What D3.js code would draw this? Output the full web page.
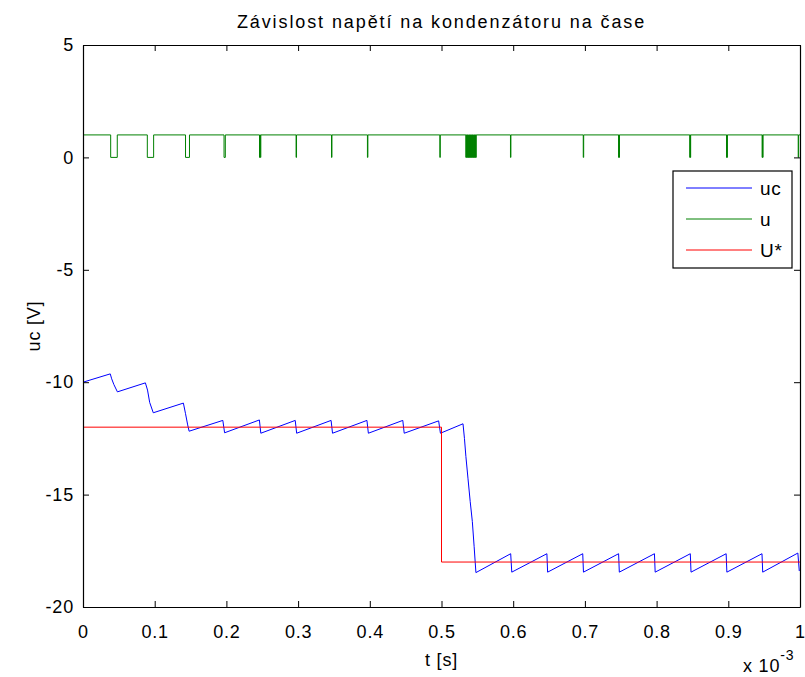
<!DOCTYPE html>
<html>
<head>
<meta charset="utf-8">
<script src="https://cdn.jsdelivr.net/npm/d3@7"></script>
<style>
  html, body { margin: 0; padding: 0; background: #fff; }
  svg { display: block; font-family: "Liberation Sans", Arial, sans-serif; }
</style>
</head>
<body>
<svg id="chart" width="805" height="677"></svg>
<script>
// Time axis in units of 1e-3 s
const xTicks = [0, 0.1, 0.2, 0.3, 0.4, 0.5, 0.6, 0.7, 0.8, 0.9, 1];
const xTickLabels = ["0", "0.1", "0.2", "0.3", "0.4", "0.5", "0.6", "0.7", "0.8", "0.9", "1"];
const yTicks = [-20, -15, -10, -5, 0, 5];
const yTickLabels = ["-20", "-15", "-10", "-5", "0", "5"];

// Capacitor voltage uc: [t, volts]
const ucTime = [
  0, 0.038, 0.040, 0.043, 0.048,
  0.087, 0.090, 0.093, 0.098,
  0.140, 0.143, 0.146, 0.148,
  0.195, 0.1975, 0.246, 0.248, 0.296, 0.298, 0.346, 0.348,
  0.396, 0.398, 0.446, 0.448, 0.496, 0.4985,
  0.530, 0.532, 0.534, 0.537, 0.540, 0.543, 0.5455, 0.548,
  0.5965, 0.598, 0.647, 0.648, 0.697, 0.698, 0.747, 0.748,
  0.797, 0.798, 0.847, 0.848, 0.897, 0.898, 0.947, 0.948, 0.997, 0.999
];
const ucValue = [
  -10.0, -9.63, -9.85, -10.1, -10.43,
  -10.03, -10.35, -10.9, -11.36,
  -10.93, -11.4, -11.9, -12.18,
  -11.7, -12.25, -11.68, -12.27, -11.7, -12.27, -11.7, -12.27,
  -11.7, -12.27, -11.7, -12.27, -11.72, -12.27,
  -11.85, -12.5, -13.3, -14.3, -15.3, -16.2, -17.3, -18.47,
  -17.63, -18.45, -17.63, -18.45, -17.63, -18.45, -17.63, -18.45,
  -17.63, -18.45, -17.63, -18.45, -17.63, -18.45, -17.63, -18.45, -17.6, -18.4
];

// Switch signal u: 1 except during these off intervals [start, end]
const uHigh = 1, uLow = 0;
const uOffIntervals = [
  [0.0386, 0.0478], [0.0897, 0.0985], [0.1430, 0.1485], [0.1967, 0.1985],
  [0.2462, 0.2468], [0.2474, 0.2480],
  [0.2972, 0.2978], [0.3466, 0.3472], [0.3967, 0.3973], [0.4977, 0.4983],
  [0.5340, 0.5344], [0.5350, 0.5354], [0.5360, 0.5364], [0.5370, 0.5374],
  [0.5380, 0.5384], [0.5390, 0.5394], [0.5400, 0.5404], [0.5410, 0.5414],
  [0.5420, 0.5424], [0.5430, 0.5434], [0.5440, 0.5444], [0.5450, 0.5454],
  [0.5460, 0.5464], [0.5470, 0.5474], [0.5480, 0.5484],
  [0.5962, 0.5968], [0.6977, 0.6983],
  [0.7470, 0.7474], [0.7478, 0.7482],
  [0.8463, 0.8467], [0.8471, 0.8475],
  [0.8975, 0.8979], [0.8983, 0.8987],
  [0.9472, 0.9476], [0.9480, 0.9484],
  [0.9975, 0.9981]
];

// Reference voltage U*: steps [t, volts]
const uStarTime = [0, 0.5, 0.5, 1];
const uStarValue = [-12, -12, -18, -18];

const legendNames = ["uc", "u", "U*"];
const legendColors = ["#0000ff", "#008000", "#ff0000"];

const svg = d3.select("#chart");
const plot = { left: 83, right: 800, top: 45, bottom: 607 };

const x = d3.scaleLinear().domain([0, 1]).range([plot.left, plot.right]);
const y = d3.scaleLinear().domain([-20, 5]).range([plot.bottom, plot.top]);

svg.append("defs").append("clipPath").attr("id", "plotClip")
  .append("rect")
  .attr("x", plot.left).attr("y", plot.top)
  .attr("width", plot.right - plot.left).attr("height", plot.bottom - plot.top);

const line = d3.line().x(d => x(d[0])).y(d => y(d[1]));

const lines = svg.append("g").attr("clip-path", "url(#plotClip)");

// uc trace
const ucData = ucTime.map((t, i) => [t, ucValue[i]]);
lines.append("path").datum(ucData)
  .attr("fill", "none").attr("stroke", legendColors[0]).attr("stroke-width", 1)
  .attr("stroke-linejoin", "round")
  .attr("d", line);

// u trace built as a step signal from its off intervals
const uData = [[0, uHigh]];
uOffIntervals.forEach(([a, b]) => {
  uData.push([a, uHigh], [a, uLow], [b, uLow], [b, uHigh]);
});
uData.push([1, uHigh]);
lines.append("path").datum(uData)
  .attr("fill", "none").attr("stroke", legendColors[1]).attr("stroke-width", 1)
  .attr("d", line);

// U* trace
const uStarData = uStarTime.map((t, i) => [t, uStarValue[i]]);
lines.append("path").datum(uStarData)
  .attr("fill", "none").attr("stroke", legendColors[2]).attr("stroke-width", 1)
  .attr("d", line);

// Axes box with inward ticks on all four sides
const fontSize = 18;
const spacing = "0.8px";
const tickLen = 6;

const xBottom = svg.append("g").attr("transform", `translate(0,${plot.bottom})`)
  .call(d3.axisBottom(x).tickValues(xTicks).tickFormat((d, i) => xTickLabels[i])
    .tickSizeInner(-tickLen).tickSizeOuter(0).tickPadding(tickLen + 12));
const xTop = svg.append("g").attr("transform", `translate(0,${plot.top})`)
  .call(d3.axisTop(x).tickValues(xTicks).tickFormat("")
    .tickSizeInner(-tickLen).tickSizeOuter(0));
const yLeft = svg.append("g").attr("transform", `translate(${plot.left},0)`)
  .call(d3.axisLeft(y).tickValues(yTicks).tickFormat((d, i) => yTickLabels[i])
    .tickSizeInner(-tickLen).tickSizeOuter(0).tickPadding(tickLen + 3));
const yRight = svg.append("g").attr("transform", `translate(${plot.right},0)`)
  .call(d3.axisRight(y).tickValues(yTicks).tickFormat("")
    .tickSizeInner(-tickLen).tickSizeOuter(0));

[xBottom, xTop, yLeft, yRight].forEach(g => {
  g.selectAll(".domain").attr("stroke", "#000").attr("stroke-width", 1.2);
  g.selectAll(".tick line").attr("stroke", "#000").attr("stroke-width", 1);
  g.selectAll(".tick text").attr("fill", "#000")
    .style("font-size", fontSize + "px")
    .style("letter-spacing", spacing)
    .style("font-family", "'Liberation Sans', Arial, sans-serif");
});

// Title and axis labels
svg.append("text")
  .attr("x", (plot.left + plot.right) / 2).attr("y", 28)
  .attr("text-anchor", "middle").attr("fill", "#000")
  .style("font-size", "18px")
  .style("letter-spacing", "1.9px")
  .text("Závislost napětí na kondenzátoru na čase");

svg.append("text")
  .attr("x", (plot.left + plot.right) / 2).attr("y", 666)
  .attr("text-anchor", "middle").attr("fill", "#000")
  .style("font-size", fontSize + "px")
  .style("letter-spacing", spacing)
  .text("t [s]");

svg.append("text")
  .attr("transform", `translate(40,${(plot.top + plot.bottom) / 2}) rotate(-90)`)
  .attr("text-anchor", "middle").attr("fill", "#000")
  .style("font-size", fontSize + "px")
  .style("letter-spacing", spacing)
  .text("uc [V]");

const expo = svg.append("text")
  .attr("x", 743).attr("y", 672).attr("fill", "#000")
  .style("font-size", fontSize + "px")
  .style("letter-spacing", spacing);
expo.append("tspan").text("x 10");
expo.append("tspan").attr("dy", -12).style("font-size", "14px").text("-3");

// Legend
const legend = { x: 673, y: 171, w: 119, h: 97, rowGap: 31 };
const lg = svg.append("g");
lg.append("rect")
  .attr("x", legend.x).attr("y", legend.y)
  .attr("width", legend.w).attr("height", legend.h)
  .attr("fill", "#fff").attr("stroke", "#000").attr("stroke-width", 1.2);
legendNames.forEach((name, i) => {
  const cy = legend.y + 17 + i * legend.rowGap;
  lg.append("line")
    .attr("x1", legend.x + 13).attr("x2", legend.x + 79)
    .attr("y1", cy).attr("y2", cy)
    .attr("stroke", legendColors[i]).attr("stroke-width", 1);
  lg.append("text")
    .attr("x", legend.x + 87).attr("y", cy + 7)
    .attr("fill", "#000").style("font-size", "19px")
    .style("letter-spacing", spacing)
    .text(name);
});
</script>
</body>
</html>
